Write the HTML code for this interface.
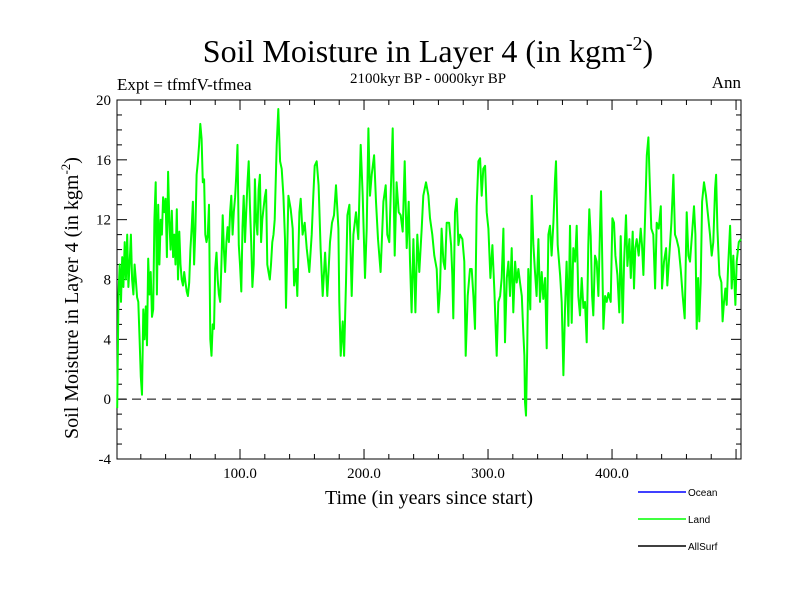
<!DOCTYPE html>
<html><head><meta charset="utf-8"><style>
body{margin:0;background:#fff}
svg text{font-family:"Liberation Serif",serif}
</style></head><body>
<svg id="chart" width="800" height="600" xmlns="http://www.w3.org/2000/svg">
<rect width="800" height="600" fill="#fff"/>
<text x="428" y="62" font-size="32" text-anchor="middle">Soil Moisture in Layer 4 (in kgm<tspan dy="-12" font-size="20">-2</tspan><tspan dy="12">)</tspan></text>
<text x="117" y="90" font-size="17">Expt = tfmfV-tfmea</text>
<text x="428" y="83" font-size="15" text-anchor="middle">2100kyr BP - 0000kyr BP</text>
<text x="741" y="88" font-size="17" text-anchor="end">Ann</text>
<text x="429" y="504" font-size="20" text-anchor="middle">Time (in years since start)</text>
<text transform="translate(78,298) rotate(-90)" font-size="20" text-anchor="middle">Soil Moisture in Layer 4 (in kgm<tspan dy="-8" font-size="13">-2</tspan><tspan dy="8">)</tspan></text>
<g id="axes"></g>
<g id="series"></g>
<g font-family="Liberation Sans" font-size="10">
<line x1="638" y1="492" x2="686" y2="492" stroke="#0000ff" stroke-width="1.5"/>
<text x="688" y="496" font-size="10" style="font-family:'Liberation Sans',sans-serif">Ocean</text>
<line x1="638" y1="519" x2="686" y2="519" stroke="#00ff00" stroke-width="1.5"/>
<text x="688" y="523" font-size="10" style="font-family:'Liberation Sans',sans-serif">Land</text>
<line x1="638" y1="546" x2="686" y2="546" stroke="#000" stroke-width="1.5"/>
<text x="688" y="550" font-size="10" style="font-family:'Liberation Sans',sans-serif">AllSurf</text>
</g>
</svg>
<script>
const years=[1,2,3,4,5,6,7,8,9,10,11,12,13,14,15,16,17,18,19,20,21,22,23,24,25,26,27,28,29,30,31,32,33,34,35,36,37,38,39,40,41,42,43,44,45,46,47,48,49,50,51,52,53,54,55,56,57,58,59,60,61,62,63,64,65,66,67,68,69,70,71,72,73,74,75,76,77,78,79,80,81,82,83,84,85,86,87,88,89,90,91,92,93,94,95,96,97,98,99,100,101,102,103,104,105,106,107,108,109,110,111,112,113,114,115,116,117,118,119,120,121,122,123,124,125,126,127,128,
129.6,130.9,132.3,133.6,135,136.3,137.1,139,140.9,142.5,143.6,145.2,146.2,147.9,148.9,150.5,152.2,153.8,155.9,157.8,159.1,160.2,161.8,163.4,165,166.7,168.6,170.4,172.6,174.2,175.8,177.4,179.3,180.1,181.2,182.8,183.9,185.5,186.6,188.2,190.1,191.4,193.5,195.4,197.3,198.9,200.8,202.2,203.5,204.8,206.2,208.1,209.7,211.3,213.4,215.6,217.5,218.8,220.4,222.3,223.1,224.7,226.3,228,229.6,231.2,232.8,234.4,236,237.1,238.4,239.8,241.4,243,244.6,246.5,247.8,250,251.9,253.2,
255.1,256.7,258.6,260,261.3,262.6,264,265.3,266.7,268.6,270.2,271.2,272,273.4,274.7,276.1,277.4,279.3,280.9,282,283.6,285.5,286.8,288.2,289.5,290.9,292.2,293.6,294.9,296.2,297.6,298.9,300.3,301.9,303.5,305.1,306.2,307,308.3,309.7,311,312.4,313.7,315.1,316.4,317.7,319.1,320.4,321.8,323.1,324.5,325.8,327.2,328.5,329.3,329.8,330.6,331.5,332.5,334.1,335.2,336.6,337.9,339.2,340.6,341.9,343.3,344.6,346,347.3,348.7,350,351.3,352.7,354,354.8,356.2,358.1,359.4,360.8,362.1,363.4,364.8,366.1,367.5,368.8,370.2,371.5,372.8,374.2,375.5,376.9,378.2,
379.6,380.9,381.7,382.8,383.9,384.9,386.3,387.6,389,390.3,391.1,391.9,393,394.4,395.7,397.1,398.9,400.3,401.6,402.7,404.3,405.9,407,408.6,409.7,411.3,412.4,414,415.1,416.7,417.7,418.8,419.9,421.5,423.1,424.2,425.3,426.9,428,429.3,430.1,431.7,433.3,434.7,436,437.6,439.3,440.3,441.9,443.6,444.6,446.2,447.9,449.5,450.8,452.1,453.8,455.4,457,458.6,460.2,461.6,462.9,464.5,466.1,467.2,468.3,469.4,470.4,471.5,472.6,474.2,475.8,477.4,479,480.4,481.7,483.1,483.9,485,486.6,488.2,489.2,490.3,491.4,492.5,493.5,495.2,496.5,497.8,499.5,500.5,502.2,504];
const landValues=[-0.6,7,9,6.5,9.5,7.5,10.5,8,11,7.5,9,11,8,7,9,8,6.8,6.5,4,1.5,0.3,6,4,6.2,3.6,9.4,7,8.5,5.5,6,12,14.5,7,13,9,12,11,13.5,12.5,13.4,9.5,15.2,12,10,12.6,9.5,11,9,12.7,8,11.2,9,8,7.6,8.5,7.8,7.2,6.9,7.8,10,11.5,13.2,9,11.4,15,15.9,17,18.4,17.4,14.5,14.7,11,10.5,11,13,4,2.9,5,4.7,8.7,9.8,8,7,6.5,9,12.3,10,8.5,10.5,11.5,10.5,12.5,13.6,11,12.5,13.5,15,17,10.3,9,7.2,11.5,13.6,10.5,12.5,14.5,15.9,13,10.5,7.5,9,14.7,12,11,14,15,10.5,12,12.8,13.5,14,9,8.5,8,9,10.5,11,12,
17,19.4,15.9,15.4,13.6,10.7,6.1,13.6,12.7,11.4,7.6,8.7,6.9,12.5,13.4,11,11.8,10.1,8.5,11,13.6,15.6,15.9,14.3,10.1,6.9,9.8,6.9,10.5,11.8,12.3,14.3,11.4,6.5,2.9,5.2,2.9,7.8,12.3,13,6.9,11,12.5,10.7,17,13.6,8.1,11.4,18.1,13.6,15,16.3,13.2,10.7,8.5,13.2,14.3,11,10.5,15.9,18.1,9.6,14.5,12.5,12.3,11.2,15.9,10.1,13.2,9.2,5.8,10.7,5.8,11,8.5,11.4,13.6,14.5,13.6,12.1,
11,9.6,8.7,5.8,7.4,11.4,9.2,8.7,11.8,11.8,10.3,8.3,5.4,12.5,13.4,10.3,11,10.7,9.2,2.9,6.9,8.7,8.7,6.9,4.7,12.9,15.9,16.1,13.6,15.4,15.6,12.5,11.4,8.1,10.3,7.2,4.7,2.9,6.5,6.9,8.1,11.4,3.8,8.1,9.2,6.9,10.1,5.8,9.2,7.8,8.7,7.8,6.9,4.3,2.9,-0.2,-1.1,2.9,8.7,6,13.6,10.3,8.5,6.9,10.7,6.5,8.5,6.7,8.1,3.4,11,11.6,9.6,11.8,14.7,15.9,10.3,8.3,6.5,1.6,6,9.2,4.9,11.6,5.1,10.1,9.2,11.6,6.9,5.6,8.1,6.1,6.5,
3.8,10.3,12.7,10.9,6.9,5.6,9.6,9.2,6.9,11.4,13.9,10.3,4.7,6.9,6.5,7.1,6.5,12.1,11.8,9.6,8.3,5.8,10.9,5.1,9.2,12.3,8.9,10.7,8.1,11.2,7.4,10.1,10.7,9.6,11.4,10.3,8.3,12.9,16.3,17.5,15.2,11.4,11,7.4,11.8,11.4,12.9,7.4,9.2,10.1,7.6,9.6,11.8,15,11,10.7,10.1,8.7,6.9,5.4,12.5,9.6,9.2,11,12.9,11,4.7,8.1,5.2,7.8,13.2,14.5,13.6,12.3,11,9.6,10.5,14.1,15,11.4,8.3,7.8,5.2,6.5,7.4,6.3,8.7,11.6,7.4,9.6,6.3,9.2,10.5,10.7];
const yTickValues=[-4,0,4,8,12,16,20];
const xTickValues=[100,200,300,400];
const xTickLabels=["100.0","200.0","300.0","400.0"];

const L=117,R=741,T=100,B=459;
const xMin=0.8,xMax=504,yMin=-4,yMax=20;
const xs=v=>L+(v-xMin)/(xMax-xMin)*(R-L);
const ys=v=>B-(v-yMin)/(yMax-yMin)*(B-T);
const NS="http://www.w3.org/2000/svg";
function mk(tag,attrs,parent){const e=document.createElementNS(NS,tag);for(const k in attrs)e.setAttribute(k,attrs[k]);parent.appendChild(e);return e;}
const axes=document.getElementById('axes');
const frame=mk('rect',{x:L,y:T,width:R-L,height:B-T,fill:'none',stroke:'#000','stroke-width':1},axes);


for(let v=yMin;v<=yMax;v++){
  const len=(v%4===0)?10:5;const y=ys(v);
  mk('line',{x1:L,y1:y,x2:L+len,y2:y,stroke:'#000'},axes);
  mk('line',{x1:R,y1:y,x2:R-len,y2:y,stroke:'#000'},axes);
}
yTickValues.forEach(v=>{
  const t=mk('text',{x:L-6,y:ys(v)+5,'font-size':15,'text-anchor':'end'},axes);
  
  
  t.textContent=v;
});
for(let v=20;v<=500;v+=20){
  const len=(v%100===0)?10:5;const x=xs(v);
  mk('line',{x1:x,y1:B,x2:x,y2:B-len,stroke:'#000'},axes);
  mk('line',{x1:x,y1:T,x2:x,y2:T+len,stroke:'#000'},axes);
}
xTickValues.forEach((v,i)=>{
  const t=mk('text',{x:xs(v),y:B+19,'font-size':15,'text-anchor':'middle'},axes);
  
  
  t.textContent=xTickLabels[i];
});
const zero=mk('line',{x1:L,y1:ys(0),x2:R,y2:ys(0),stroke:'#000','stroke-dasharray':'9,6'},axes);


const pts=years.map((yr,i)=>xs(yr).toFixed(1)+','+ys(landValues[i]).toFixed(1)).join(' ');
const line=mk('polyline',{points:pts,fill:'none',stroke:'#00ff00','stroke-width':2,'stroke-linejoin':'round'},document.getElementById('series'));


</script>
</body></html>
